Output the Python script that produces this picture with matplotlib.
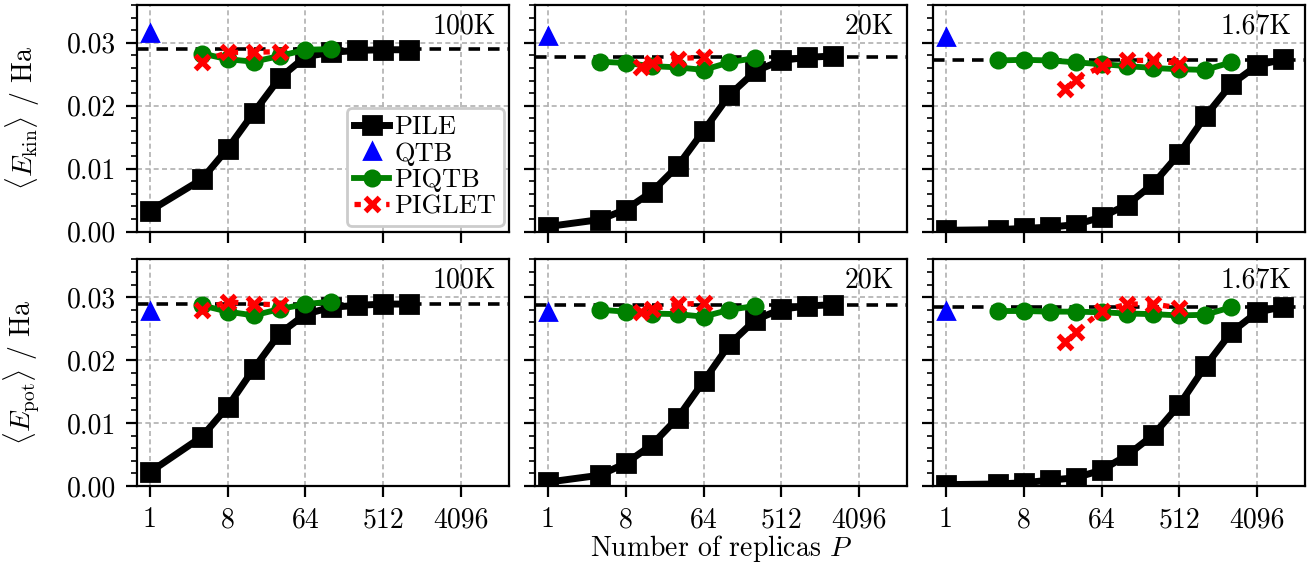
import matplotlib
matplotlib.use("Agg")
import matplotlib.pyplot as plt
from matplotlib.ticker import MultipleLocator, FixedLocator, NullLocator

plt.rcParams['font.family'] = 'serif'
plt.rcParams['font.serif'] = ['cmr10']
plt.rcParams['mathtext.fontset'] = 'cm'
plt.rcParams['axes.unicode_minus'] = False

# temperaturen per kolom
temperaturen = ['100K', '20K', '1.67K']

# aantal replica's
P_pile = [
    [1, 4, 8, 16, 32, 64, 128, 256, 512, 1024],
    [1, 4, 8, 16, 32, 64, 128, 256, 512, 1024, 2048],
    [1, 4, 8, 16, 32, 64, 128, 256, 512, 1024, 2048, 4096, 8192],
]
P_piqtb = [
    [4, 8, 16, 32, 64, 128],
    [4, 8, 16, 32, 64, 128, 256],
    [4, 8, 16, 32, 64, 128, 256, 512, 1024, 2048],
]
P_piglet = [
    [4, 8, 16, 32],
    [12, 16, 32, 64],
    [24, 32, 64, 128, 256, 512],
]

# kinetische energie (Ha)
ekin_pile = [
    [0.0033, 0.0083, 0.0132, 0.0189, 0.0244, 0.0278, 0.0285, 0.0288, 0.0289, 0.0289],
    [0.0008, 0.0019, 0.0035, 0.0063, 0.0104, 0.0160, 0.0217, 0.0255, 0.0272, 0.0277, 0.0279],
    [0.0002, 0.0003, 0.0005, 0.0007, 0.0011, 0.0023, 0.0043, 0.0076, 0.0124, 0.0183, 0.0234, 0.0264, 0.0274],
]
ekin_qtb = [0.0315, 0.0311, 0.0310]
ekin_piqtb = [
    [0.0283, 0.0274, 0.0270, 0.0279, 0.0289, 0.0290],
    [0.0270, 0.0268, 0.0263, 0.0261, 0.0257, 0.0269, 0.0276],
    [0.0272, 0.0273, 0.0272, 0.0269, 0.0266, 0.0263, 0.0260, 0.0258, 0.0257, 0.0269],
]
ekin_piglet = [
    [0.0270, 0.0285, 0.0285, 0.0286],
    [0.0262, 0.0268, 0.0275, 0.0277],
    [0.0227, 0.0241, 0.0263, 0.0272, 0.0272, 0.0267],
]
ekin_ref = [0.0290, 0.0278, 0.0273]

# potentiele energie (Ha)
epot_pile = [
    [0.0022, 0.0078, 0.0126, 0.0186, 0.0242, 0.0273, 0.0284, 0.0287, 0.0289, 0.0289],
    [0.0006, 0.0017, 0.0036, 0.0065, 0.0108, 0.0166, 0.0225, 0.0264, 0.0281, 0.0286, 0.0288],
    [0.0002, 0.0003, 0.0005, 0.0009, 0.0013, 0.0025, 0.0049, 0.0081, 0.0129, 0.0190, 0.0244, 0.0276, 0.0285],
]
epot_qtb = [0.0278, 0.0277, 0.0278]
epot_piqtb = [
    [0.0287, 0.0277, 0.0271, 0.0281, 0.0289, 0.0293],
    [0.0280, 0.0277, 0.0274, 0.0273, 0.0269, 0.0280, 0.0286],
    [0.0278, 0.0278, 0.0277, 0.0277, 0.0276, 0.0274, 0.0273, 0.0271, 0.0272, 0.0284],
]
epot_piglet = [
    [0.0279, 0.0293, 0.0289, 0.0288],
    [0.0276, 0.0281, 0.0289, 0.0290],
    [0.0228, 0.0244, 0.0278, 0.0289, 0.0289, 0.0283],
]
epot_ref = [0.0289, 0.0288, 0.0285]

x_ticks = [1, 8, 64, 512, 4096]
x_tick_labels = ['1', '8', '64', '512', '4096']

rijen = [
    (ekin_pile, ekin_qtb, ekin_piqtb, ekin_piglet, ekin_ref, r'$\langle E_{\rm kin}\rangle$ / Ha'),
    (epot_pile, epot_qtb, epot_piqtb, epot_piglet, epot_ref, r'$\langle E_{\rm pot}\rangle$ / Ha'),
]

fig, axes = plt.subplots(2, 3, figsize=(6.535, 2.825), dpi=200, sharex=True, sharey=True)
fig.subplots_adjust(left=0.1048, right=0.9985, top=0.991, bottom=0.140, hspace=0.123, wspace=0.07)

for r, (pile, qtb, piqtb, piglet, ref, ylabel) in enumerate(rijen):
    for c in range(3):
        ax = axes[r, c]
        ax.axhline(ref[c], color='black', linestyle='--', linewidth=1.3, dashes=(3.2, 2.2), zorder=2)
        ax.plot(P_pile[c], pile[c], color='black', marker='s', markersize=6.3, linewidth=2.5,
                label='PILE', zorder=3)
        ax.plot([1], [qtb[c]], color='blue', marker='^', markersize=5.5, linestyle='none',
                label='QTB', zorder=3)
        ax.plot(P_piqtb[c], piqtb[c], color='green', marker='o', markersize=5.5, linewidth=2.1,
                label='PIQTB', zorder=4)
        ax.plot(P_piglet[c], piglet[c], color='red', marker='x', markersize=5, markeredgewidth=1.9,
                linewidth=1.9, linestyle=(0, (1.2, 1.8)), label='PIGLET', zorder=5)

        ax.set_xscale('log', base=2)
        ax.set_xlim(2 ** -0.5, 2 ** 13.85)
        ax.set_ylim(0, 0.036)
        ax.xaxis.set_major_locator(FixedLocator(x_ticks))
        ax.xaxis.set_minor_locator(NullLocator())
        ax.set_xticks(x_ticks)
        ax.set_xticklabels(x_tick_labels)
        ax.yaxis.set_major_locator(MultipleLocator(0.01))
        ax.yaxis.set_minor_locator(MultipleLocator(0.002))
        ax.yaxis.set_major_formatter(plt.FormatStrFormatter('%.2f'))
        ax.grid(True, which='major', linestyle=(0, (3, 2)), color='#b0b0b0', linewidth=0.6)
        ax.set_axisbelow(True)
        ax.tick_params(which='major', length=4, width=0.8, labelsize=10, direction='out')
        ax.tick_params(which='minor', length=2, width=0.6, direction='out')
        ax.tick_params(top=False, right=False)
        for spine in ax.spines.values():
            spine.set_linewidth(0.8)
        ax.text(0.965, 0.965, temperaturen[c], transform=ax.transAxes, ha='right', va='top', fontsize=10)
        if r == 0:
            ax.tick_params(labelbottom=False)
        if c == 0:
            ax.set_ylabel(ylabel, fontsize=10)
            ax.yaxis.set_label_coords(-0.255, 0.5)

leg = axes[0, 0].legend(loc='lower right', fontsize=9.5, handlelength=1.3, handletextpad=0.2,
                        labelspacing=0.1, borderpad=0.3, borderaxespad=0.2, fancybox=True,
                        framealpha=1.0, edgecolor='0.8')

fig.text(0.5517, 0.016, r'Number of replicas $P$', ha='center', va='baseline', fontsize=10)

fig.savefig('out.png', dpi=200)
